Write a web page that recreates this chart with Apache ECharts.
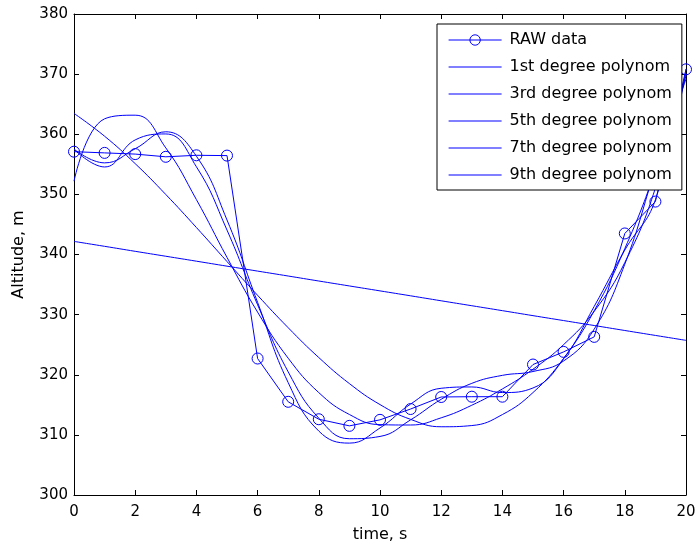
<!DOCTYPE html>
<html>
<head>
<meta charset="utf-8">
<script src="https://cdn.jsdelivr.net/npm/echarts@6/dist/echarts.min.js"></script>
<style>
html,body{margin:0;padding:0;background:#ffffff;}
#chart{width:699px;height:550px;}
</style>
</head>
<body>
<div id="chart"></div>
<script>
// ---- data ----
const timeS = [0,1,2,3,4,5,6,7,8,9,10,11,12,13,14,15,16,17,18,19,20];
const rawData = [357.1,356.9,356.7,356.25,356.5,356.45,322.7,315.5,312.6,311.5,312.5,314.3,316.3,316.35,316.35,321.7,323.8,326.3,343.5,348.8,370.8];
const poly1 = [342.18,341.36,340.53,339.71,338.89,338.06,337.24,336.42,335.59,334.77,333.95,333.13,332.30,331.48,330.66,329.83,329.01,328.19,327.36,326.54,325.72];
const poly3 = [363.47,359.67,355.11,349.98,344.49,338.83,333.21,327.82,322.86,318.53,315.04,312.58,311.35,311.55,313.38,317.04,322.72,330.64,340.98,353.95,369.74];
const poly5 = [352.20,362.57,363.17,357.73,349.13,339.52,330.41,322.75,317.03,313.39,311.70,311.64,312.84,314.93,317.64,320.92,325.01,330.55,338.66,351.05,370.09];
const poly7 = [357.51,354.56,359.06,360.05,354.59,344.06,331.64,320.48,312.78,309.36,309.74,312.50,315.92,318.57,319.90,320.54,322.29,327.59,338.39,354.18,369.21];
const poly9 = [357.54,355.24,357.59,360.41,356.35,345.74,332.03,318.69,310.63,308.63,311.15,315.12,317.75,317.97,317.04,317.80,322.65,331.37,340.74,349.11,370.87];
const seriesNames = ['RAW data','1st degree polynom','3rd degree polynom','5th degree polynom','7th degree polynom','9th degree polynom'];
const xTickMin = 0, xTickMax = 20, xTickStep = 2;
const yTickMin = 300, yTickMax = 380, yTickStep = 10;
const xTitle = 'time, s';
const yTitle = 'Altitude, m';

// ---- chart ----
const blue = '#0000ff';
const font = 'DejaVu Sans';
const pairs = ys => timeS.map((t, i) => [t, ys[i]]);
const polys = [poly1, poly3, poly5, poly7, poly9];

const series = [{
  name: seriesNames[0],
  type: 'line',
  data: pairs(rawData),
  symbol: 'circle',
  symbolSize: 11,
  showSymbol: true,
  showAllSymbol: true,
  color: blue,
  lineStyle: {color: blue, width: 1},
  itemStyle: {color: 'rgba(0,0,0,0)', borderColor: blue, borderWidth: 1},
  emphasis: {disabled: true},
  z: 3
}].concat(polys.map((p, i) => ({
  name: seriesNames[i + 1],
  type: 'line',
  data: pairs(p),
  symbol: 'none',
  smooth: 0.45,
  color: blue,
  lineStyle: {color: blue, width: 1},
  itemStyle: {color: blue},
  emphasis: {disabled: true},
  z: 2
})));

const axisCommonX = {
  type: 'value', min: xTickMin, max: xTickMax, interval: xTickStep,
  axisLine: {show: true, onZero: false, lineStyle: {color: '#000', width: 1}},
  axisTick: {show: true, inside: true, length: 5, lineStyle: {color: '#000', width: 1}},
  splitLine: {show: false}
};
const axisCommonY = {
  type: 'value', min: yTickMin, max: yTickMax, interval: yTickStep,
  axisLine: {show: true, onZero: false, lineStyle: {color: '#000', width: 1}},
  axisTick: {show: true, inside: true, length: 5, lineStyle: {color: '#000', width: 1}},
  splitLine: {show: false}
};

const legendData = seriesNames.map((n, i) => i === 0
  ? {name: n, lineStyle: {color: blue, width: 1.2}, itemStyle: {color: 'rgba(0,0,0,0)', borderColor: blue, borderWidth: 1}}
  : {name: n, lineStyle: {color: blue, width: 1.2}, itemStyle: {color: 'rgba(0,0,0,0)', borderColor: 'rgba(0,0,0,0)', borderWidth: 0}});

const option = {
  animation: false,
  backgroundColor: '#ffffff',
  grid: {left: 74, top: 14, width: 612, height: 481, containLabel: false, outerBoundsMode: 'none'},
  xAxis: [
    Object.assign({}, axisCommonX, {
      position: 'bottom',
      name: xTitle, nameLocation: 'middle', nameGap: 32,
      nameTextStyle: {fontFamily: font, fontSize: 16, color: '#000'},
      axisLabel: {show: true, margin: 10, fontFamily: font, fontSize: 15, color: '#000'}
    }),
    Object.assign({}, axisCommonX, {position: 'top', axisLabel: {show: false}})
  ],
  yAxis: [
    Object.assign({}, axisCommonY, {
      position: 'left',
      name: yTitle, nameLocation: 'middle', nameGap: 47,
      nameTextStyle: {fontFamily: font, fontSize: 16, color: '#000'},
      axisLabel: {show: true, margin: 6, fontFamily: font, fontSize: 15, color: '#000'}
    }),
    Object.assign({}, axisCommonY, {position: 'right', axisLabel: {show: false}})
  ],
  legend: {
    show: true,
    orient: 'vertical',
    left: 437,
    top: 24,
    padding: [6, 10, 5, 11],
    backgroundColor: '#ffffff',
    borderColor: '#000000',
    borderWidth: 1,
    borderRadius: 0,
    itemWidth: 53,
    itemHeight: 13,
    itemGap: 7,
    selectedMode: false,
    lineStyle: {color: blue, width: 1.2},
    textStyle: {fontFamily: font, fontSize: 16, color: '#000', lineHeight: 20, padding: [0, 0, 0, 3]},
    data: legendData,
    z: 10
  },
  tooltip: {show: false},
  series: series
};

const chart = echarts.init(document.getElementById('chart'), null, {renderer: 'canvas'});
chart.setOption(option);
</script>
</body>
</html>
